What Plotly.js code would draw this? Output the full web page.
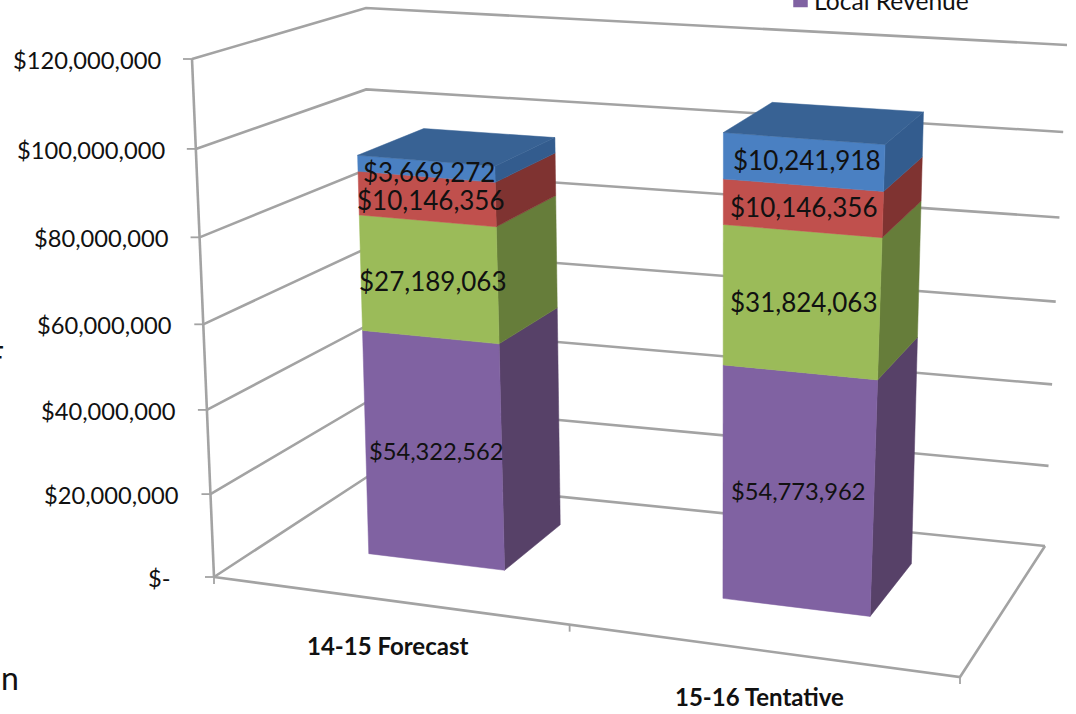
<!DOCTYPE html>
<html>
<head>
<meta charset="utf-8">
<script src="https://cdn.plot.ly/plotly-3.0.1.min.js"></script>
<style>html,body{margin:0;padding:0;background:#fff;overflow:hidden}</style>
</head>
<body>
<div id="chart" style="width:1076px;height:714px"></div>
<script>
// Revenue by source, stacked bottom to top
const categories = ["14-15 Forecast", "15-16 Tentative"];
const localRevenue = [54322562, 54773962];
const stateRevenue = [27189063, 31824063];
const federalRevenue = [10146356, 10146356];
const otherRevenue = [3669272, 10241918];
const valueTicks = [0, 20000000, 40000000, 60000000, 80000000, 100000000, 120000000];
const valueTickLabels = ["$-", "$20,000,000", "$40,000,000", "$60,000,000", "$80,000,000", "$100,000,000", "$120,000,000"];
const axisMax = 120000000;

// Series colours: front face, side face
const seriesStyle = [
  {values: localRevenue, front: "#8062A2", side: "#574168", labelSize: 23.7},
  {values: stateRevenue, front: "#9BBB59", side: "#667D3A", labelSize: 26},
  {values: federalRevenue, front: "#C0504D", side: "#7F3331", labelSize: 26},
  {values: otherRevenue, front: "#4A80C2", side: "#335C8E", top: "#386294", labelSize: 26}
];

// Perspective box: where the corners of the plot box land on the page
const floorCorners = [[214, 577], [960, 677], [1045, 546], [367, 477]];
const ceilCorners = [[192, 59], [1000, 122], [1067, 45], [366, 8]];
const bend = 0.05; // values nearer the viewer span slightly more of the height

// Column footprints in box units: across (u) and depth (d)
const footprints = [{u0: 0.162, u1: 0.368, d0: 0.33, d1: 0.75}, {u0: 0.672, u1: 0.858, d0: 0.32, d1: 0.745}];

// Small label offsets per column and series, in page pixels
const labelNudgeX = [[4, 5, 5, 4], [1, 4, 3, 5]];
const labelNudgeY = [[0, 2, 1, 3], [0, 0, -1, -2]];

function quadMap(q) {
  const [p0, p1, p2, p3] = q;
  const dx1 = p1[0] - p2[0], dx2 = p3[0] - p2[0], sx = p0[0] - p1[0] + p2[0] - p3[0];
  const dy1 = p1[1] - p2[1], dy2 = p3[1] - p2[1], sy = p0[1] - p1[1] + p2[1] - p3[1];
  const den = dx1 * dy2 - dx2 * dy1;
  const g = (sx * dy2 - dx2 * sy) / den, h = (dx1 * sy - sx * dy1) / den;
  const a = p1[0] - p0[0] + g * p1[0], b = p3[0] - p0[0] + h * p3[0];
  const d = p1[1] - p0[1] + g * p1[1], e = p3[1] - p0[1] + h * p3[1];
  return (u, v) => {
    const w = g * u + h * v + 1;
    return [(a * u + b * v + p0[0]) / w, (d * u + e * v + p0[1]) / w];
  };
}
const floorAt = quadMap(floorCorners), ceilAt = quadMap(ceilCorners);

function project(u, d, value) {
  const f = value / axisMax;
  const t = f / (1 + bend - bend * f);
  const a = floorAt(u, d), b = ceilAt(u, d);
  return [a[0] + (b[0] - a[0]) * t, a[1] + (b[1] - a[1]) * t];
}

const traces = [];

function polyline(points, color, width) {
  traces.push({type: "scatter", mode: "lines", hoverinfo: "skip", showlegend: false,
    x: points.map(p => p ? p[0] : null), y: points.map(p => p ? p[1] : null),
    line: {color: color, width: width}});
}
function face(points, color) {
  const closed = points.concat([points[0]]);
  traces.push({type: "scatter", mode: "lines", hoverinfo: "skip", showlegend: false,
    x: closed.map(p => p[0]), y: closed.map(p => p[1]), fill: "toself", fillcolor: color,
    line: {color: color, width: 0.5}});
}

// Walls, floor and tick marks
const gridColor = "#A3A3A3";
valueTicks.forEach(v => {
  polyline([project(0, 0, v), project(0, 1, v), project(1, 1, v)], gridColor, 2.6);
});
polyline([project(0, 0, 0), project(0, 0, axisMax)], gridColor, 2.6);
polyline([project(0, 0, 0), project(1, 0, 0), project(1, 1, 0)], gridColor, 2.6);
valueTicks.forEach(v => {
  const p = project(0, 0, v);
  polyline([[p[0] - 9, p[1]], p], gridColor, 1.8);
});
[0, 0.524, 1].forEach(u => {
  const p = project(u, 0, 0);
  polyline([p, [p[0], p[1] + 7]], gridColor, 1.8);
});

// Columns, each stacked from the floor upward
const annotations = [];
footprints.forEach((fp, c) => {
  let base = 0;
  seriesStyle.forEach((s, i) => {
    const top = base + s.values[c];
    face([project(fp.u1, fp.d0, base), project(fp.u1, fp.d1, base),
          project(fp.u1, fp.d1, top), project(fp.u1, fp.d0, top)], s.side);
    face([project(fp.u0, fp.d0, base), project(fp.u1, fp.d0, base),
          project(fp.u1, fp.d0, top), project(fp.u0, fp.d0, top)], s.front);
    if (s.top) {
      face([project(fp.u0, fp.d0, top), project(fp.u1, fp.d0, top),
            project(fp.u1, fp.d1, top), project(fp.u0, fp.d1, top)], s.top);
    }
    const mid = project((fp.u0 + fp.u1) / 2, fp.d0, (base + top) / 2);
    annotations.push({x: mid[0] + labelNudgeX[c][i], y: mid[1] + labelNudgeY[c][i], xref: "x", yref: "y", showarrow: false,
      text: "$" + s.values[c].toLocaleString("en-US"), xanchor: "center", yanchor: "middle",
      font: {family: "Lato", size: s.labelSize, color: "#111"}});
    base = top;
  });
});

// Value axis labels
valueTicks.forEach((v, i) => {
  const p = project(0, 0, v);
  annotations.push({x: p[0] - (v === 0 ? 41 : 29), y: p[1] + 1, xref: "x", yref: "y", showarrow: false,
    text: valueTickLabels[i], xanchor: "right", yanchor: "middle",
    font: {family: "Lato", size: 23.7, color: "#111"}});
});

// Category labels below the front edge
[[387, 645], [759, 696]].forEach((pos, i) => {
  annotations.push({x: pos[0], y: pos[1], xref: "x", yref: "y", showarrow: false,
    text: "<b>" + categories[i] + "</b>", xanchor: "center", yanchor: "middle",
    font: {family: "Lato", size: 24, color: "#111"}});
});

// Legend entry and neighbouring slide text at the page edge
traces.push({type: "scatter", mode: "markers", hoverinfo: "skip", showlegend: false,
  x: [800.5], y: [0], marker: {symbol: "square", size: 14.5, color: "#8062A2"}});
annotations.push({x: 812, y: 0, xref: "x", yref: "y", showarrow: false, text: "Local Revenue",
  xanchor: "left", yanchor: "middle", font: {family: "Lato", size: 24.6, color: "#111"}});
annotations.push({x: 0, y: 677, xshift: -1, xref: "x", yref: "y", showarrow: false, text: "n",
  xanchor: "left", yanchor: "middle", font: {family: "Lato", size: 32, color: "#111"}});
annotations.push({x: 0, y: 356, xshift: 6, xref: "x", yref: "y", showarrow: false, text: "F",
  xanchor: "right", yanchor: "middle", font: {family: "Lato", size: 30, color: "#111"}});

Plotly.newPlot("chart", traces, {
  width: 1076, height: 714,
  margin: {l: 0, r: 0, t: 0, b: 0},
  paper_bgcolor: "#fff", plot_bgcolor: "#fff",
  xaxis: {range: [0, 1076], visible: false, fixedrange: true},
  yaxis: {range: [714, 0], visible: false, fixedrange: true},
  showlegend: false,
  annotations: annotations
}, {displayModeBar: false, staticPlot: true});
</script>
</body>
</html>
